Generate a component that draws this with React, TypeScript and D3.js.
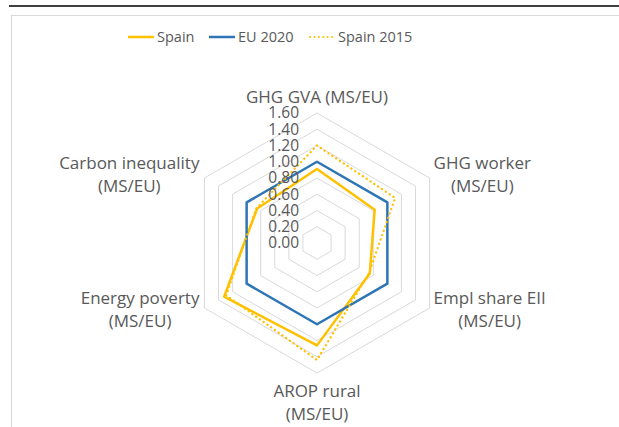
import React, { useEffect, useRef } from 'react';
import * as d3 from 'd3';

const categories = [
  ['GHG GVA (MS/EU)'],
  ['GHG worker', '(MS/EU)'],
  ['Empl share EII', '(MS/EU)'],
  ['AROP rural', '(MS/EU)'],
  ['Energy poverty', '(MS/EU)'],
  ['Carbon inequality', '(MS/EU)'],
];
const spain = [0.91, 0.82, 0.75, 1.26, 1.32, 0.85];
const eu2020 = [1.0, 1.0, 1.0, 1.0, 1.0, 1.0];
const spain2015 = [1.2, 1.11, 0.74, 1.44, 1.29, 0.86];
const ticks = [0, 0.2, 0.4, 0.6, 0.8, 1.0, 1.2, 1.4, 1.6];

const series = [
  { name: 'Spain', values: spain, color: '#FFC000', dash: null },
  { name: 'EU 2020', values: eu2020, color: '#2E75B6', dash: null },
  { name: 'Spain 2015', values: spain2015, color: '#FFC000', dash: '0.1 4.5' },
];

const W = 619;
const H = 427;
const FONT = '"Open Sans", sans-serif';
const GREY = '#595959';

const App: React.FC = () => {
  const svgRef = useRef<SVGSVGElement>(null);

  useEffect(() => {
    if (!svgRef.current) return;
    const svg = d3.select(svgRef.current);
    svg.selectAll('*').remove();

    // frame
    svg.append('line').attr('x1', 9).attr('x2', W).attr('y1', 6).attr('y2', 6)
      .attr('stroke', '#000').attr('stroke-width', 1.6);
    svg.append('rect').attr('x', 11.5).attr('y', 15.5).attr('width', 700).attr('height', 600)
      .attr('fill', '#fff').attr('stroke', '#d9d9d9').attr('stroke-width', 1);

    const cx = 317;
    const cy = 243;
    const r = d3.scaleLinear().domain([0, 1.6]).range([0, 130]);
    const angle = d3.scaleLinear().domain([0, categories.length]).range([0, 2 * Math.PI]);
    const pt = (i: number, v: number): [number, number] => [
      cx + r(v) * Math.sin(angle(i)),
      cy - r(v) * Math.cos(angle(i)),
    ];

    const g = svg.append('g');

    // rings
    ticks.slice(1).forEach(t => {
      const pts = categories.map((_, i) => pt(i, t));
      g.append('path')
        .attr('d', d3.line().curve(d3.curveLinearClosed)(pts))
        .attr('fill', 'none')
        .attr('stroke', '#d9d9d9')
        .attr('stroke-width', 1);
    });

    // series
    series.forEach(s => {
      const pts = s.values.map((v, i) => pt(i, v));
      const p = g.append('path')
        .attr('d', d3.line().curve(d3.curveLinearClosed)(pts))
        .attr('fill', 'none')
        .attr('stroke', s.color)
        .attr('stroke-width', 2.5)
        .attr('stroke-linejoin', 'round');
      if (s.dash) p.attr('stroke-dasharray', s.dash).attr('stroke-linecap', 'round').attr('stroke-width', 2.3);
    });

    // tick labels
    g.selectAll('.tick')
      .data(ticks)
      .enter()
      .append('text')
      .attr('x', cx - 18)
      .attr('y', d => cy - r(d))
      .attr('dy', '0.35em')
      .attr('text-anchor', 'end')
      .attr('font-family', FONT)
      .attr('font-size', 15.5)
      .attr('fill', GREY)
      .text(d => d.toFixed(2));

    // category labels
    const lh = 23;
    categories.forEach((lines, i) => {
      const [vx, vy] = pt(i, 1.6);
      const a = angle(i);
      const sx = Math.sin(a);
      const t = g.append('text')
        .attr('font-family', FONT)
        .attr('font-size', 17)
        .attr('fill', GREY)
        .attr('text-anchor', 'middle');
      lines.forEach(l => t.append('tspan').text(l));
      const widths = t.selectAll<SVGTSpanElement, unknown>('tspan').nodes().map(n => n.getComputedTextLength());
      const bw = Math.max(...widths);
      let x = vx;
      let y0 = 0;
      const n = lines.length;
      if (Math.abs(sx) < 0.01) {
        y0 = Math.cos(a) > 0 ? vy - 16 - (n - 1) * lh : vy + 18;
      } else {
        x = sx > 0 ? vx + 4 + bw / 2 : vx - 5 - bw / 2;
        const mid = Math.cos(a) > 0 ? vy - 3 : vy + 2;
        y0 = mid - ((n - 1) * lh) / 2;
      }
      t.selectAll('tspan')
        .attr('x', x)
        .attr('y', (_, j) => y0 + j * lh)
        .attr('dy', '0.35em');
    });

    // legend
    const legendX = [128, 209, 309];
    const leg = svg.append('g').attr('transform', 'translate(0,37)');
    series.forEach((s, i) => {
      const l = leg.append('line')
        .attr('x1', legendX[i]).attr('x2', legendX[i] + 26)
        .attr('y1', 0).attr('y2', 0)
        .attr('stroke', s.color).attr('stroke-width', 2.5);
      if (s.dash) l.attr('stroke-dasharray', '0.1 4.3').attr('stroke-linecap', 'round').attr('stroke-width', 2)
        .attr('x1', legendX[i] + 1);
      leg.append('text')
        .attr('x', legendX[i] + 29)
        .attr('y', 0)
        .attr('dy', '0.35em')
        .attr('font-family', FONT)
        .attr('font-size', 14.5)
        .attr('fill', GREY)
        .text(s.name);
    });
  }, []);

  return (
    <svg
      ref={svgRef}
      width={W}
      height={H}
      style={{ position: 'absolute', left: 0, top: 0, background: '#fff' }}
    />
  );
};

export default App;
